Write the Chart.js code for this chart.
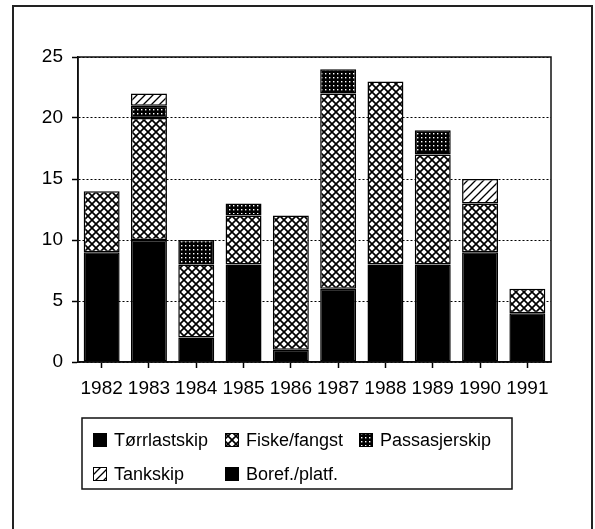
<!DOCTYPE html>
<html>
<head>
<meta charset="utf-8">
<script src="https://cdn.jsdelivr.net/npm/chart.js@4"></script>
<style>
  html, body { margin: 0; padding: 0; background: #fff; }
  #wrap { width: 595px; height: 529px; }
</style>
</head>
<body>
<div id="wrap"><canvas id="myChart" width="595" height="529"></canvas></div>
<script>
// data
let years = ['1982', '1983', '1984', '1985', '1986', '1987', '1988', '1989', '1990', '1991'];
let torrlast = [9, 10, 2, 8, 1, 6, 8, 8, 9, 4];
let fiske = [5, 10, 6, 4, 11, 16, 15, 9, 4, 2];
let passasjer = [0, 1, 2, 1, 0, 2, 0, 2, 0, 0];
let tank = [0, 1, 0, 0, 0, 0, 0, 0, 2, 0];
let boref = [0, 0, 0, 0, 0, 0, 0, 0, 0, 0];
let yTicks = [0, 5, 10, 15, 20, 25];

const FONT = '"Liberation Sans", Arial, Helvetica, sans-serif';

function makePattern(kind) {
    let c = document.createElement('canvas');
    let s = kind == 'dots' ? 4 : 8;
    c.width = s; c.height = s;
    let g = c.getContext('2d');
    if (kind == 'dots') {
        g.fillStyle = '#000';
        g.fillRect(0, 0, s, s);
        g.fillStyle = '#fff';
        g.fillRect(1, 1, 1.4, 1.4);
        return g.createPattern(c, 'repeat');
    }
    g.fillStyle = '#fff';
    g.fillRect(0, 0, s, s);
    g.strokeStyle = '#000';
    g.lineWidth = kind == 'cross' ? 1.7 : 1.3;
    g.beginPath();
    if (kind == 'cross') {
        g.moveTo(0, 0); g.lineTo(s, s);
        g.moveTo(0, s); g.lineTo(s, 0);
    } else {
        g.moveTo(0, s); g.lineTo(s, 0);
        g.moveTo(-1, 1); g.lineTo(1, -1);
        g.moveTo(s - 1, s + 1); g.lineTo(s + 1, s - 1);
    }
    g.stroke();
    return g.createPattern(c, 'repeat');
}

let fills = {
    torr: '#000',
    fiske: makePattern('cross'),
    pass: makePattern('dots'),
    tank: makePattern('diag'),
    boref: '#000'
};

// frame, plot box and the legend
const framePlugin = {
    id: 'frame',
    afterDraw(chart) {
        let ctx = chart.ctx;
        let a = chart.chartArea;
        ctx.save();
        ctx.setLineDash([]);
        ctx.strokeStyle = '#222';
        ctx.lineWidth = 2;
        ctx.strokeRect(13, 6, 579, 560);
        ctx.lineWidth = 1.5;
        ctx.strokeStyle = '#111';
        ctx.strokeRect(a.left, a.top, a.right - a.left, a.bottom - a.top);

        // legend box
        ctx.strokeRect(82, 418, 430, 71);
        let pos = [[93, 440], [225, 440], [359, 440], [93, 474], [225, 474]];
        ctx.font = '18px ' + FONT;
        ctx.textBaseline = 'middle';
        chart.data.datasets.forEach(function (ds, i) {
            let p = pos[i];
            ctx.fillStyle = ds.backgroundColor;
            ctx.fillRect(p[0], p[1] - 7, 14, 14);
            ctx.strokeStyle = '#000';
            ctx.lineWidth = 1;
            ctx.strokeRect(p[0] + 0.5, p[1] - 6.5, 13, 13);
            ctx.fillStyle = '#000';
            ctx.fillText(ds.label, p[0] + 21, p[1] + 1);
        });
        ctx.restore();
    }
};

var ctx = document.getElementById('myChart');
var chart = new Chart(ctx, {
    type: 'bar',
    data: {
        labels: years,
        datasets: [
            { label: 'Tørrlastskip', data: torrlast, backgroundColor: fills.torr },
            { label: 'Fiske/fangst', data: fiske, backgroundColor: fills.fiske },
            { label: 'Passasjerskip', data: passasjer, backgroundColor: fills.pass },
            { label: 'Tankskip', data: tank, backgroundColor: fills.tank },
            { label: 'Boref./platf.', data: boref, backgroundColor: fills.boref }
        ].map(function (d) {
            d.borderColor = '#000';
            d.borderWidth = 1.5;
            d.borderSkipped = false;
            d.categoryPercentage = 1;
            d.barPercentage = 0.76;
            return d;
        })
    },
    options: {
        responsive: false,
        animation: false,
        layout: { padding: { left: 0, top: 57, right: 44, bottom: 127 } },
        plugins: {
            legend: { display: false },
            tooltip: { enabled: false }
        },
        scales: {
            x: {
                stacked: true,
                offset: true,
                border: { display: true, color: '#000', width: 1.5 },
                grid: { display: true, offset: false, drawOnChartArea: false, color: '#000', tickLength: 6, tickWidth: 1.5 },
                ticks: { color: '#000', padding: 9, maxRotation: 0, autoSkip: false, font: { family: FONT, size: 19 } },
                afterFit: function (s) { s.height = 40; }
            },
            y: {
                stacked: true,
                min: 0,
                max: 25,
                border: { display: true, color: '#000', width: 1.5, dash: [2, 2] },
                grid: { color: '#000', lineWidth: 1, tickBorderDash: [0, 0], tickLength: 6, tickWidth: 1.5 },
                ticks: {
                    color: '#000', padding: 9, font: { family: FONT, size: 19 },
                    stepSize: 5,
                    callback: function (v) { return yTicks.includes(v) ? v : ''; }
                },
                afterFit: function (s) { s.width = 78; }
            }
        }
    },
    plugins: [framePlugin]
});
</script>
</body>
</html>
